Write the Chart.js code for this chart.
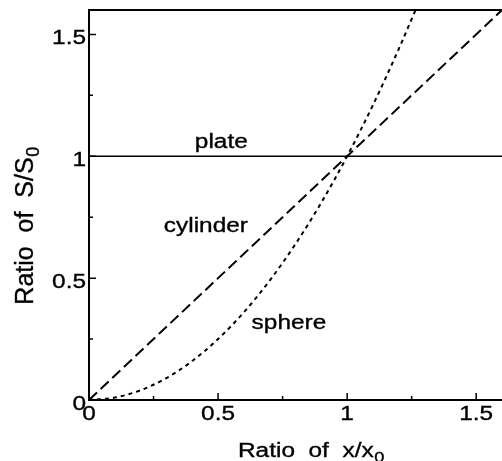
<!DOCTYPE html>
<html>
<head>
<meta charset="utf-8">
<script src="https://cdn.jsdelivr.net/npm/chart.js@4.4.1/dist/chart.umd.min.js"></script>
<style>
  html, body { margin: 0; padding: 0; background: #fff; }
  #wrap { width: 502px; height: 461px; }
</style>
</head>
<body>
<div id="wrap"><canvas id="shapes" width="502" height="461"></canvas></div>
<script>
// values
const plateX = [0, 1.6]
const plateY = [1, 1]
const cylinderX = [0, 0.5, 1, 1.6]
const cylinderY = [0, 0.5, 1, 1.6]
const sphereX = [0, 0.1, 0.2, 0.3, 0.4, 0.5, 0.6, 0.7, 0.8, 0.9, 1.0, 1.1, 1.2, 1.265]
const sphereY = [0, 0.01, 0.04, 0.09, 0.16, 0.25, 0.36, 0.49, 0.64, 0.81, 1.0, 1.21, 1.44, 1.6]

const xTickValues = [0, 0.5, 1, 1.5]
const xTickLabels = ['0', '0.5', '1', '1.5']
const xMinorTicks = [0.25, 0.75, 1.25]
const yTickValues = [0, 0.5, 1, 1.5]
const yTickLabels = ['0', '0.5', '1', '1.5']
const yMinorTicks = [0.25, 0.75, 1.25]

const FONT = '"Liberation Sans", Arial, Helvetica, sans-serif'
const SIZE = 20
const SUB_SIZE = 15
const STRETCH = 1.22

function toPoints(xs, ys) {
  return xs.map((x, i) => ({x: x, y: ys[i]}))
}

// draws text filled plus a thin stroke, so it reads as heavy as the scan
function ink(ctx, text, x, y) {
  ctx.fillText(text, x, y)
  ctx.strokeText(text, x, y)
}

// horizontally stretched text, like the scanned original
function drawText(ctx, text, x, y, align, sub) {
  ctx.save()
  ctx.font = SIZE + 'px ' + FONT
  ctx.textBaseline = 'alphabetic'
  ctx.lineWidth = 0.35
  let w = ctx.measureText(text).width
  let subW = 0
  if (sub) {
    ctx.font = SUB_SIZE + 'px ' + FONT
    subW = ctx.measureText(sub).width
    ctx.font = SIZE + 'px ' + FONT
  }
  let total = (w + subW) * STRETCH
  let startX = x
  if (align === 'center') startX = x - total / 2
  if (align === 'right') startX = x - total
  ctx.translate(startX, y)
  ctx.scale(STRETCH, 1)
  ctx.textAlign = 'left'
  ink(ctx, text, 0, 0)
  if (sub) {
    ctx.font = SUB_SIZE + 'px ' + FONT
    ink(ctx, sub, w + 0.5, 5)
  }
  ctx.restore()
}

const decorations = {
  id: 'decorations',
  afterDraw(chart) {
    const ctx = chart.ctx
    const area = chart.chartArea
    const xs = chart.scales.x
    const ys = chart.scales.y
    ctx.save()
    ctx.strokeStyle = '#000'
    ctx.fillStyle = '#000'
    ctx.lineWidth = 2

    // top frame line
    ctx.beginPath()
    ctx.moveTo(area.left, area.top)
    ctx.lineTo(area.right, area.top)
    ctx.stroke()

    // inward ticks
    ctx.lineWidth = 1.5
    ctx.beginPath()
    xTickValues.forEach(v => { let p = xs.getPixelForValue(v); ctx.moveTo(p, area.bottom); ctx.lineTo(p, area.bottom - 7) })
    xMinorTicks.forEach(v => { let p = xs.getPixelForValue(v); ctx.moveTo(p, area.bottom); ctx.lineTo(p, area.bottom - 4) })
    yTickValues.forEach(v => { let p = ys.getPixelForValue(v); ctx.moveTo(area.left, p); ctx.lineTo(area.left + 7, p) })
    yMinorTicks.forEach(v => { let p = ys.getPixelForValue(v); ctx.moveTo(area.left, p); ctx.lineTo(area.left + 4, p) })
    ctx.stroke()

    // tick labels
    xTickValues.forEach((v, i) => drawText(ctx, xTickLabels[i], xs.getPixelForValue(v), area.bottom + 20, 'center'))
    yTickValues.forEach((v, i) => drawText(ctx, yTickLabels[i], area.left - 3, ys.getPixelForValue(v) + 10, 'right'))

    // curve labels
    drawText(ctx, 'plate', xs.getPixelForValue(0.41), ys.getPixelForValue(1) - 8, 'left')
    drawText(ctx, 'cylinder', xs.getPixelForValue(0.29), ys.getPixelForValue(0.69), 'left')
    drawText(ctx, 'sphere', xs.getPixelForValue(0.63), ys.getPixelForValue(0.29), 'left')

    // axis titles
    drawText(ctx, 'Ratio  of  x/x', 238, 457, 'left', '0')

    ctx.save()
    ctx.translate(33, 226)
    ctx.rotate(-Math.PI / 2)
    ctx.lineWidth = 0.35
    ctx.font = '25px ' + FONT
    let main = 'Ratio  of  S/S'
    let w = ctx.measureText(main).width
    ctx.font = '18px ' + FONT
    let sw = ctx.measureText('0').width
    let start = -(w + sw) / 2
    ctx.font = '25px ' + FONT
    ctx.textAlign = 'left'
    ink(ctx, main, start, 0)
    ctx.font = '18px ' + FONT
    ink(ctx, '0', start + w + 0.5, 6)
    ctx.restore()

    ctx.restore()
  }
}

new Chart('shapes', {
  type: 'line',
  data: {
    datasets: [
      {
        label: 'plate',
        data: toPoints(plateX, plateY),
        borderColor: '#000',
        borderWidth: 1.6,
        pointRadius: 0
      },
      {
        label: 'cylinder',
        data: toPoints(cylinderX, cylinderY),
        borderColor: '#000',
        borderWidth: 2,
        borderDash: [11, 5],
        pointRadius: 0
      },
      {
        label: 'sphere',
        data: toPoints(sphereX, sphereY),
        borderColor: '#000',
        borderWidth: 2,
        borderDash: [4, 4],
        cubicInterpolationMode: 'monotone',
        pointRadius: 0
      }
    ]
  },
  options: {
    responsive: false,
    animation: false,
    devicePixelRatio: 1,
    layout: { padding: { top: 10, left: 0, right: 0, bottom: 0 } },
    plugins: {
      legend: { display: false },
      tooltip: { enabled: false }
    },
    scales: {
      x: {
        type: 'linear',
        min: 0,
        max: 1.6,
        ticks: { display: false },
        grid: { display: true, drawOnChartArea: false, drawTicks: false },
        border: { display: true, color: '#000', width: 2 },
        afterFit: scale => { scale.height = 61 }
      },
      y: {
        type: 'linear',
        min: 0,
        max: 1.6,
        ticks: { display: false },
        grid: { display: true, drawOnChartArea: false, drawTicks: false },
        border: { display: true, color: '#000', width: 2 },
        afterFit: scale => { scale.width = 89 }
      }
    }
  },
  plugins: [decorations]
})
</script>
</body>
</html>
